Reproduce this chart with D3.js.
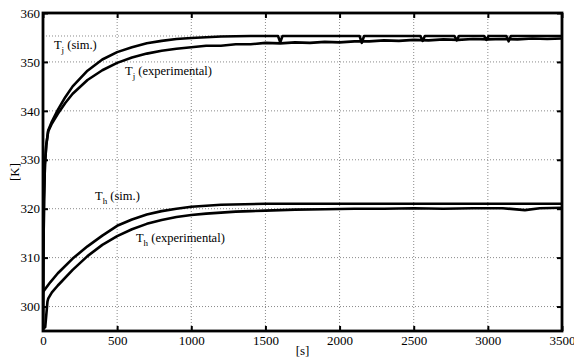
<!DOCTYPE html>
<html>
<head>
<meta charset="utf-8">
<script src="https://cdn.jsdelivr.net/npm/d3@7"></script>
<style>
  body { margin: 0; background: #fff; }
  svg text { font-family: "Liberation Serif", "Times New Roman", serif; }
</style>
</head>
<body>
<div id="chart"></div>
<script>
// Time [s] and temperature [K] for each curve
var tjSimT = [0, 3, 7, 13, 22, 35, 60, 100, 150, 200, 300, 400, 500, 600, 700, 800, 900, 1000, 1200, 1400,
              1585, 1600, 1615, 2135, 2150, 2165, 2545, 2560, 2575, 2775, 2790, 2805, 2975, 2990, 3005, 3125, 3140, 3155, 3500];
var tjSimV = [295.5, 311, 322, 329, 333, 336, 337.8, 340.2, 342.8, 345.0, 348.2, 350.5, 352.0, 353.0, 353.8, 354.3, 354.7, 354.9, 355.2, 355.3,
              355.3, 354.0, 355.3, 355.3, 353.9, 355.3, 355.3, 354.3, 355.3, 355.3, 354.4, 355.3, 355.3, 354.5, 355.3, 355.3, 354.2, 355.3, 355.3];

var tjExpT = [0, 3, 7, 13, 22, 35, 60, 100, 150, 200, 300, 400, 500, 600, 700, 800, 900, 1000, 1100, 1200, 1300, 1400, 1500,
              1600, 1700, 1800, 1900, 2000, 2100, 2200, 2300, 2400, 2500, 2600, 2700, 2800, 2900, 3000, 3100, 3200, 3300, 3400, 3500];
var tjExpV = [295.5, 311, 322, 329, 333, 335.8, 337.4, 339.4, 341.6, 343.5, 346.3, 348.3, 349.8, 350.9, 351.7, 352.3, 352.7, 353.0, 353.3, 353.3, 353.6, 353.6, 353.9,
              353.8, 354.0, 353.9, 354.1, 354.0, 354.2, 354.2, 354.4, 354.3, 354.5, 354.4, 354.6, 354.5, 354.7, 354.6, 354.7, 354.6, 354.8, 354.7, 354.8];

var thSimT = [0, 50, 100, 200, 300, 400, 500, 600, 700, 800, 900, 1000, 1200, 1500, 2000, 3500];
var thSimV = [303.0, 305.0, 306.8, 309.8, 312.3, 314.5, 316.5, 317.8, 318.8, 319.5, 320.0, 320.4, 320.8, 321.0, 321.0, 321.0];

var thExpT = [0, 15, 30, 35, 60, 100, 200, 300, 400, 500, 600, 700, 800, 900, 1000, 1100, 1200, 1300, 1400, 1500,
              1700, 1900, 2100, 2300, 2500, 2700, 2900, 3100, 3250, 3350, 3500];
var thExpV = [295.5, 295.8, 301.0, 301.6, 302.9, 304.3, 307.5, 310.3, 312.6, 314.4, 315.8, 316.9, 317.7, 318.3, 318.7, 319.0, 319.2, 319.4, 319.5, 319.6,
              319.8, 319.9, 320.0, 320.0, 320.1, 320.0, 320.1, 320.1, 319.7, 320.1, 320.2];

var refLevel = [355.3];

var xTicks = [0, 500, 1000, 1500, 2000, 2500, 3000, 3500];
var yTicks = [300, 310, 320, 330, 340, 350, 360];

var curveLabels = [
  { main: "T", sub: "j", rest: " (sim.)", t: 74, v: 352.6 },
  { main: "T", sub: "j", rest: " (experimental)", t: 553, v: 347.3 },
  { main: "T", sub: "h", rest: " (sim.)", t: 351, v: 321.8 },
  { main: "T", sub: "h", rest: " (experimental)", t: 627, v: 313.1 }
];

// Dimensions of chart
var svg_dx = 574, svg_dy = 358;
var plotL = 43, plotR = 562, plotT = 13, plotB = 331;

var xScale = d3.scaleLinear().domain([0, 3500]).range([plotL, plotR]);
var yScale = d3.scaleLinear().domain([295, 360]).range([plotB, plotT]);

var svg = d3.select("#chart")
            .append("svg")
            .attr("width", svg_dx)
            .attr("height", svg_dy);

svg.append("clipPath").attr("id", "plotclip")
   .append("rect")
   .attr("x", plotL).attr("y", plotT)
   .attr("width", plotR - plotL).attr("height", plotB - plotT);

// Grid (dotted)
var grid = svg.append("g");
grid.selectAll(".gx")
    .data(xTicks.slice(1, -1))
    .enter().append("line")
    .attr("x1", function(d) { return xScale(d); })
    .attr("x2", function(d) { return xScale(d); })
    .attr("y1", plotT).attr("y2", plotB)
    .style("stroke", "#8a8a8a").style("stroke-width", 1)
    .style("stroke-dasharray", "1,2");
grid.selectAll(".gy")
    .data(yTicks.slice(0, -1))
    .enter().append("line")
    .attr("y1", function(d) { return yScale(d); })
    .attr("y2", function(d) { return yScale(d); })
    .attr("x1", plotL).attr("x2", plotR)
    .style("stroke", "#8a8a8a").style("stroke-width", 1)
    .style("stroke-dasharray", "1,2");

// Dotted reference level
grid.selectAll(".ref")
    .data(refLevel)
    .enter().append("line")
    .attr("y1", function(d) { return yScale(d); })
    .attr("y2", function(d) { return yScale(d); })
    .attr("x1", plotL).attr("x2", plotR)
    .style("stroke", "#8a8a8a").style("stroke-width", 1)
    .style("stroke-dasharray", "1,2");

// Curves
var line = d3.line()
             .x(function(d) { return xScale(d[0]); })
             .y(function(d) { return yScale(d[1]); });

var series = [ [tjSimT, tjSimV], [tjExpT, tjExpV], [thSimT, thSimV], [thExpT, thExpV] ];

svg.append("g").attr("clip-path", "url(#plotclip)")
   .selectAll("path")
   .data(series)
   .enter().append("path")
   .attr("d", function(s) { return line(d3.zip(s[0], s[1])); })
   .style("fill", "none")
   .style("stroke", "#000")
   .style("stroke-width", 2.6)
   .style("stroke-linejoin", "round");

// Axes with inward ticks
var xAxisB = svg.append("g")
    .attr("transform", "translate(0," + plotB + ")")
    .call(d3.axisBottom(xScale).tickValues(xTicks).tickSize(-5).tickPadding(5).tickFormat(d3.format("d")));
var xAxisT = svg.append("g")
    .attr("transform", "translate(0," + plotT + ")")
    .call(d3.axisTop(xScale).tickValues(xTicks).tickSize(-5).tickFormat(""));
var yAxisL = svg.append("g")
    .attr("transform", "translate(" + plotL + ",0)")
    .call(d3.axisLeft(yScale).tickValues(yTicks).tickSize(-5).tickPadding(3).tickFormat(d3.format("d")));
var yAxisR = svg.append("g")
    .attr("transform", "translate(" + plotR + ",0)")
    .call(d3.axisRight(yScale).tickValues(yTicks).tickSize(-5).tickFormat(""));

[xAxisB, xAxisT, yAxisL, yAxisR].forEach(function(a) {
  a.attr("font-family", null);
  a.select(".domain").remove();
  a.selectAll(".tick line").style("stroke", "#000").style("stroke-width", 2);
  a.selectAll(".tick text")
   .style("font-size", "13px")
   .style("fill", "#000");
});

// Frame
svg.append("rect")
   .attr("x", plotL).attr("y", plotT)
   .attr("width", plotR - plotL).attr("height", plotB - plotT)
   .style("fill", "none")
   .style("stroke", "#000")
   .style("stroke-width", 2.8);

// Axis labels
svg.append("text")
   .attr("x", (plotL + plotR) / 2)
   .attr("y", 355)
   .style("text-anchor", "middle")
   .style("font-size", "13px")
   .text("[s]");

svg.append("text")
   .attr("transform", "translate(19," + 172 + ") rotate(-90)")
   .style("text-anchor", "middle")
   .style("font-size", "13px")
   .text("[K]");

// Curve labels
var lbl = svg.selectAll(".clabel")
   .data(curveLabels)
   .enter().append("text")
   .attr("class", "clabel")
   .attr("x", function(d) { return xScale(d.t); })
   .attr("y", function(d) { return yScale(d.v); })
   .style("font-size", "12.5px");
lbl.append("tspan").text(function(d) { return d.main; });
lbl.append("tspan").attr("dy", 4).style("font-size", "9px").text(function(d) { return d.sub; });
lbl.append("tspan").attr("dy", -4).text(function(d) { return d.rest; });
</script>
</body>
</html>
